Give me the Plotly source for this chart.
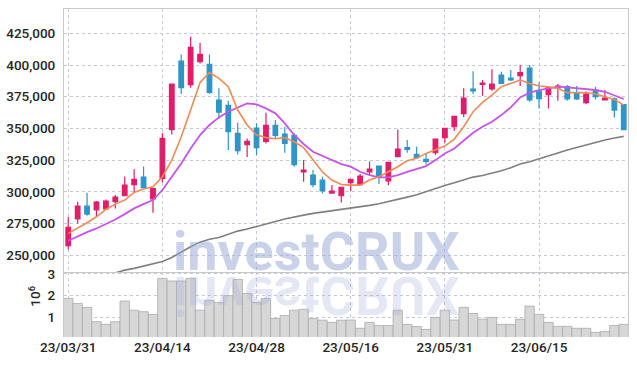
import plotly.graph_objects as go

dates = ["23/03/31", "23/04/03", "23/04/04", "23/04/05", "23/04/06", "23/04/07", "23/04/10", "23/04/11", "23/04/12", "23/04/13",
         "23/04/14", "23/04/17", "23/04/18", "23/04/19", "23/04/20", "23/04/21", "23/04/24", "23/04/25", "23/04/26", "23/04/27",
         "23/04/28", "23/05/02", "23/05/03", "23/05/04", "23/05/08", "23/05/09", "23/05/10", "23/05/11", "23/05/12", "23/05/15",
         "23/05/16", "23/05/17", "23/05/18", "23/05/19", "23/05/22", "23/05/23", "23/05/24", "23/05/25", "23/05/26", "23/05/30",
         "23/05/31", "23/06/01", "23/06/02", "23/06/05", "23/06/07", "23/06/08", "23/06/09", "23/06/12", "23/06/13", "23/06/14",
         "23/06/15", "23/06/16", "23/06/19", "23/06/20", "23/06/21", "23/06/22", "23/06/23", "23/06/26", "23/06/27", "23/06/28"]

open_ = [257500, 278700, 288700, 285800, 286600, 292200, 296900, 305600, 311600, 294500,
         310600, 349000, 403200, 384500, 402600, 400500, 372400, 368200, 346100, 337100,
         350300, 339800, 352400, 345600, 344500, 315800, 313200, 309200, 299000, 296900,
         307200, 305600, 315800, 320300, 308700, 327700, 334800, 329500, 325600, 330800,
         342700, 351300, 361600, 381100, 384700, 381100, 392100, 389700, 391600, 397600,
         379500, 376600, 381900, 382900, 377600, 370300, 380300, 372400, 373400, 368700]
high = [280300, 292200, 299300, 292700, 294000, 297400, 312100, 317700, 319900, 302700,
        346100, 385000, 408400, 422400, 417600, 408400, 381600, 371900, 354500, 342100,
        354000, 362400, 356600, 351300, 346100, 325000, 317200, 311900, 305300, 303500,
        309800, 314000, 324000, 320300, 323200, 349200, 340800, 335600, 330300, 341600,
        350600, 360000, 381600, 395000, 388200, 396600, 394700, 396100, 400000, 400000,
        386300, 382900, 385000, 384200, 383400, 379200, 382900, 380300, 374500, 368700]
low = [254500, 275000, 281100, 280300, 285600, 286900, 296900, 299800, 303200, 283500,
       307400, 345300, 377100, 382100, 401300, 377100, 357700, 332900, 329500, 327400,
       329000, 338200, 342100, 330800, 319800, 307900, 303500, 298700, 299000, 291600,
       300600, 304800, 313200, 306100, 305100, 327200, 330800, 326900, 321600, 329000,
       338700, 347900, 359000, 377100, 375800, 379800, 385500, 387400, 383400, 371100,
       365800, 365800, 371900, 371900, 372400, 369200, 372900, 372400, 358700, 349000]
close = [271900, 288700, 282400, 291900, 292700, 295800, 305300, 309800, 303200, 302700,
         342100, 385000, 382100, 413900, 408400, 378400, 362900, 347400, 332400, 339800,
         334800, 352400, 344500, 338200, 321400, 317200, 305600, 300800, 300600, 303500,
         309800, 312400, 317900, 311400, 323200, 333700, 333500, 326900, 324000, 341600,
         350000, 359500, 374000, 379500, 385800, 385000, 385500, 388200, 394000, 372400,
         373400, 382100, 383400, 373200, 373200, 377100, 375000, 374000, 364500, 349000]

ma_short = [267200, 271100, 275600, 280300, 286100, 290300, 293500, 299500, 302200, 304000,
            311900, 325000, 343400, 364500, 386300, 394000, 389500, 382900, 364500, 352700,
            344800, 342900, 341900, 342700, 339500, 334800, 325000, 315600, 309300, 305800,
            305300, 305300, 309300, 311900, 315800, 319800, 324500, 326400, 330300, 332900,
            336100, 341600, 351300, 363200, 370500, 376300, 382900, 385500, 388200, 385500,
            383400, 382900, 381600, 378200, 378200, 378200, 377100, 375000, 372900, 368400]
ma_mid = [261400, 265000, 268200, 271100, 274500, 278200, 282400, 286900, 290300, 293500,
          301400, 311900, 322400, 334200, 344800, 352700, 358700, 363200, 366600, 369700,
          369000, 365800, 361900, 354000, 344800, 337700, 331600, 328200, 325000, 321900,
          319800, 315800, 313200, 311400, 311400, 313200, 315800, 317900, 320300, 325000,
          330300, 334200, 340300, 346600, 351300, 355300, 360500, 366600, 374500, 378200,
          380300, 381800, 382900, 382400, 381600, 381100, 380300, 378900, 376300, 373200]
ma_long = [None, None, None, None, None, 236000, 238200, 239600, 241400, 243000,
           245100, 248200, 252700, 256700, 260300, 262600, 264000, 266400, 269000, 270600,
           272400, 274500, 276600, 278500, 280300, 281600, 283000, 284000, 285100, 286100,
           287200, 288000, 289300, 290600, 292200, 293700, 295800, 297700, 300300, 302400,
           305000, 307200, 309300, 311600, 312900, 314500, 316600, 319000, 321900, 323700,
           325800, 328200, 330600, 332900, 335000, 337100, 339200, 340800, 342400, 343700]

volume_m = [1.87, 1.64, 1.46, 0.80, 0.68, 0.80, 1.75, 1.33, 1.26, 1.14,
            2.79, 2.67, 2.67, 2.79, 1.33, 1.78, 1.69, 2.00, 2.74, 2.10,
            1.69, 1.87, 0.95, 1.09, 1.33, 1.37, 0.95, 0.87, 0.77, 0.87,
            0.88, 0.50, 0.77, 0.63, 0.63, 1.33, 0.68, 0.58, 0.45, 1.00,
            1.33, 0.88, 1.46, 1.18, 0.92, 1.00, 0.68, 0.68, 0.92, 1.52,
            1.14, 0.77, 0.59, 0.59, 0.50, 0.50, 0.31, 0.36, 0.63, 0.68]

price_ticks = [250000, 275000, 300000, 325000, 350000, 375000, 400000, 425000]
price_ticktext = ["250,000", "275,000", "300,000", "325,000", "350,000", "375,000", "400,000", "425,000"]
vol_ticks = [1, 2, 3]
date_ticks = dates[::10]

UP = "#e11c68"
DOWN = "#2f95c8"
GRID = "rgb(196,200,218)"
FONT = "Roboto, sans-serif"
TICKFONT = dict(family=FONT, size=13.5, color="#262626", weight=500)

fig = go.Figure()
fig.add_trace(go.Candlestick(
    x=dates, open=open_, high=high, low=low, close=close,
    increasing=dict(line=dict(color=UP, width=1.2), fillcolor=UP),
    decreasing=dict(line=dict(color=DOWN, width=1.2), fillcolor=DOWN),
    whiskerwidth=0, xaxis="x", yaxis="y", showlegend=False))
fig.add_trace(go.Scatter(x=dates, y=ma_long, mode="lines", line=dict(color="#7f7f7f", width=1.6),
                         xaxis="x", yaxis="y", showlegend=False))
fig.add_trace(go.Scatter(x=dates, y=ma_mid, mode="lines", line=dict(color="#c653ec", width=1.8),
                         xaxis="x", yaxis="y", showlegend=False))
fig.add_trace(go.Scatter(x=dates, y=ma_short, mode="lines", line=dict(color="#ef8a55", width=1.6),
                         xaxis="x", yaxis="y", showlegend=False))
fig.add_trace(go.Bar(x=dates, y=volume_m, marker=dict(color="#d7d7d7", line=dict(color="#ababab", width=0.8)),
                     xaxis="x2", yaxis="y2", showlegend=False))

xcommon = dict(type="category", range=[-0.45, len(dates) - 0.55], tickvals=date_ticks,
               showgrid=True, gridcolor=GRID, griddash="dot", gridwidth=1,
               ticks="", fixedrange=True, automargin=False)
fig.update_layout(
    width=637, height=366,
    margin=dict(l=64, r=9, t=9, b=29, autoexpand=False),
    paper_bgcolor="white", plot_bgcolor="white",
    bargap=0,
    font=dict(family=FONT, size=13, color="#262626"),
    xaxis=dict(**xcommon, anchor="y", showticklabels=False, rangeslider=dict(visible=False),
               showline=True, linecolor="#c8c8c8", linewidth=1, mirror=True),
    xaxis2=dict(**xcommon, anchor="y2", matches="x", showticklabels=True, tickfont=TICKFONT),
    yaxis=dict(domain=[0.198, 1], range=[236700, 444200], tickvals=price_ticks, ticktext=price_ticktext,
               showgrid=True, gridcolor=GRID, griddash="dot", zeroline=False, ticks="",
               showline=True, linecolor="#c8c8c8", mirror=True, ticklabelstandoff=5,
               automargin=False, tickfont=TICKFONT),
    yaxis2=dict(domain=[0, 0.198], range=[0.1, 3.08], tickvals=vol_ticks,
                showgrid=True, gridcolor=GRID, griddash="dot", zeroline=False, ticks="",
                showline=True, linecolor="#c8c8c8", mirror=True, ticklabelstandoff=5,
                automargin=False, tickfont=TICKFONT),
    annotations=[
        dict(text="<b>investCRUX</b>", xref="paper", yref="paper", x=0.447, y=0.262,
             xanchor="center", yanchor="middle", showarrow=False,
             font=dict(family="Roboto, DejaVu Sans, sans-serif", size=54, color="rgba(150,165,212,0.5)")),
        dict(text="<b>investCRUX</b>", xref="paper", yref="paper", x=0.447, y=0.126,
             xanchor="center", yanchor="middle", showarrow=False,
             font=dict(family="Roboto, DejaVu Sans, sans-serif", size=54, color="rgba(165,175,218,0.28)")),
        dict(text="10<sup>6</sup>", xref="paper", yref="paper", x=-0.052, y=0.125,
             xanchor="center", yanchor="middle", showarrow=False, textangle=-90,
             font=dict(family=FONT, size=13.5, color="#262626", weight=500)),
    ],
)

post_js = """
document.body.style.margin = '0';
document.body.style.padding = '0';
var gd = document.getElementById('{plot_id}');
function flip(){
  var a = gd.querySelector('.annotation[data-index="1"] text.annotation-text');
  if (a) { a.style.transformBox = 'fill-box'; a.style.transformOrigin = 'center'; a.style.transform = 'scaleY(-1)'; }
}
flip();
if (gd.on) { gd.on('plotly_afterplot', flip); }
"""
fig.write_html("out.html", post_script=post_js, config={"displayModeBar": False, "staticPlot": True})
